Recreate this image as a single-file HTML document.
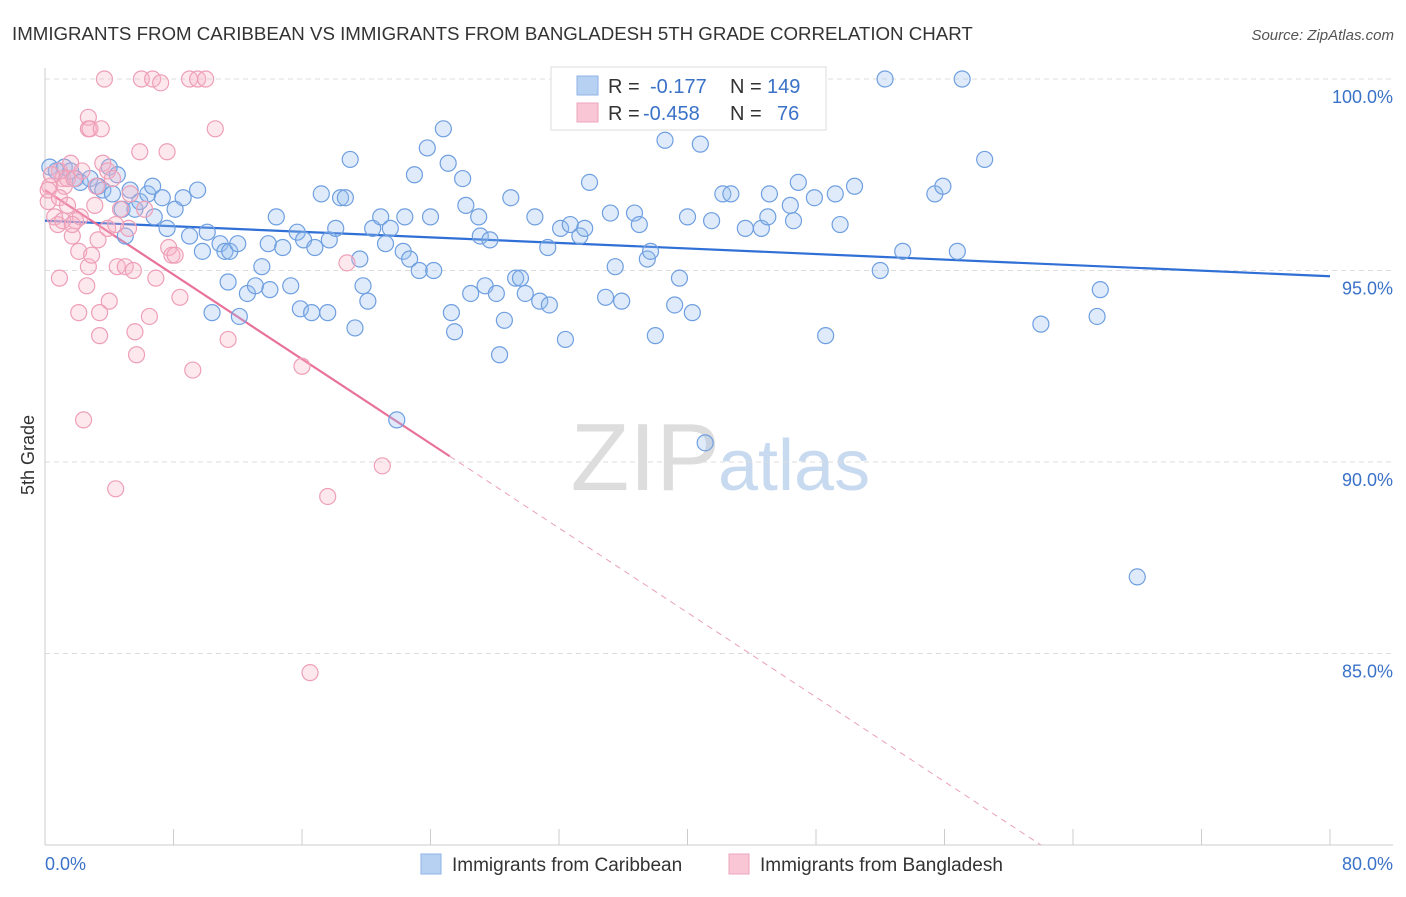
<!DOCTYPE html>
<html><head><meta charset="utf-8"><style>
body{margin:0;background:#fff;font-family:"Liberation Sans",sans-serif;}
svg text{font-family:"Liberation Sans",sans-serif;}
</style></head><body>
<svg id="chart" width="1406" height="892">
<text x="12" y="40" font-size="18.7" fill="#333">IMMIGRANTS FROM CARIBBEAN VS IMMIGRANTS FROM BANGLADESH 5TH GRADE CORRELATION CHART</text>
<text x="1394" y="40" font-size="15" fill="#555" font-style="italic" text-anchor="end">Source: ZipAtlas.com</text>
<text x="720" y="490" font-size="96" fill="#ddd" text-anchor="end" font-family="Liberation Serif">ZIP</text>
<text x="718" y="490" font-size="72" fill="#c8daf0">atlas</text>
<text x="34" y="455" font-size="18" fill="#333" transform="rotate(-90 34 455)" text-anchor="middle">5th Grade</text>
<g id="grid"></g><g id="ticks"></g><g id="trend"></g><g id="pts"></g>
<g>
<rect x="551" y="67" width="275" height="63" fill="#fff" stroke="#ddd"/>
<rect x="577" y="76" width="21" height="19" fill="#b7d1f3" stroke="#8fb3e6"/>
<rect x="577" y="103" width="21" height="19" fill="#f8c6d5" stroke="#eea6bd"/>
<text x="608" y="93" font-size="20" fill="#333">R =</text><text x="650" y="93" font-size="20" fill="#3a72c8">-0.177</text>
<text x="730" y="93" font-size="20" fill="#333">N =</text><text x="767" y="93" font-size="20" fill="#3a72c8">149</text>
<text x="608" y="120" font-size="20" fill="#333">R =</text><text x="643" y="120" font-size="20" fill="#3a72c8">-0.458</text>
<text x="730" y="120" font-size="20" fill="#333">N =</text><text x="777" y="120" font-size="20" fill="#3a72c8">76</text>
</g>
<g>
<rect x="421" y="854" width="20" height="20" fill="#b7d1f3" stroke="#8fb3e6"/>
<text x="452" y="871" font-size="19" fill="#333">Immigrants from Caribbean</text>
<rect x="729" y="854" width="20" height="20" fill="#f8c6d5" stroke="#eea6bd"/>
<text x="760" y="871" font-size="19" fill="#333">Immigrants from Bangladesh</text>
</g>
<text x="45" y="870" font-size="18" fill="#3a72c8">0.0%</text>
<text x="1393" y="870" font-size="18" fill="#3a72c8" text-anchor="end">80.0%</text>
</svg>
<script>
const yTicks=[100,95,90,85];
const yTickLabels=["100.0%","95.0%","90.0%","85.0%"];
const xTicks=[0,8,16,24,32,40,48,56,64,72,80];
const blueX=[0.3,0.7,1.2,1.6,1.9,2.2,2.8,3.3,3.6,4.0,4.5,4.2,4.8,5.0,5.3,5.6,5.9,6.4,6.7,6.8,7.3,7.6,8.1,8.6,9.0,9.5,9.8,10.1,10.4,10.9,11.2,11.5,12.0,11.4,12.1,12.6,13.1,13.5,13.9,14.0,14.4,14.8,15.3,15.7,15.9,16.1,16.6,16.8,17.2,17.6,17.7,18.1,18.4,18.7,19.0,19.3,19.6,19.8,20.1,20.4,20.9,21.2,21.5,21.9,22.3,22.4,22.7,23.0,23.3,23.8,24.0,24.2,24.8,25.1,25.3,25.5,26.0,26.2,26.5,27.0,27.1,27.4,27.7,28.1,28.3,28.6,29.0,29.3,29.6,29.9,30.5,30.8,31.3,31.4,32.1,32.4,32.7,33.3,33.6,33.9,34.9,35.2,35.5,35.9,36.7,37.0,37.5,37.7,38.0,38.6,39.2,39.5,40.0,40.3,40.8,41.1,41.5,42.2,42.7,43.6,44.6,45.0,45.1,46.4,46.6,46.9,47.9,48.6,49.2,49.5,50.4,52.0,52.3,53.4,55.4,55.9,56.8,57.1,58.5,62.0,65.5,65.7,68.0];
const blueY=[97.7,97.6,97.7,97.6,97.4,97.3,97.4,97.2,97.1,97.7,97.5,97.0,96.6,95.9,97.1,96.6,96.8,97.0,97.2,96.4,96.9,96.1,96.6,96.9,95.9,97.1,95.5,96.0,93.9,95.7,95.5,95.5,95.7,94.7,93.8,94.4,94.6,95.1,95.7,94.5,96.4,95.6,94.6,96.0,94.0,95.8,93.9,95.6,97.0,93.9,95.8,96.1,96.9,96.9,97.9,93.5,95.3,94.6,94.2,96.1,96.4,95.7,96.1,91.1,95.5,96.4,95.3,97.5,95.0,98.2,96.4,95.0,98.7,97.8,93.9,93.4,97.4,96.7,94.4,96.4,95.9,94.6,95.8,94.4,92.8,93.7,96.9,94.8,94.8,94.4,96.4,94.2,95.6,94.1,96.1,93.2,96.2,95.9,96.1,97.3,94.3,96.5,95.1,94.2,96.5,96.2,95.3,95.5,93.3,98.4,94.1,94.8,96.4,93.9,98.3,90.5,96.3,97.0,97.0,96.1,96.1,96.4,97.0,96.7,96.3,97.3,96.9,93.3,97.0,96.2,97.2,95.0,100.0,95.5,97.0,97.2,95.5,100.0,97.9,93.6,93.8,94.5,87.0];
const pinkX=[0.2,0.3,0.6,0.8,0.9,1.1,1.2,1.4,1.6,1.7,1.9,2.1,2.2,2.4,2.6,2.7,2.7,2.7,2.8,3.1,3.3,3.4,3.4,3.5,3.6,3.7,3.9,3.9,4.0,4.2,4.4,4.5,4.7,5.0,5.2,5.6,5.7,5.9,6.0,6.2,6.5,6.7,6.9,7.2,7.6,7.7,7.9,8.1,8.4,9.0,9.2,9.5,10.0,10.6,11.4,16.0,16.5,17.6,18.8,21.0,0.2,0.4,0.9,1.4,1.8,2.3,3.2,5.3,4.4,5.5,1.1,1.7,2.1,0.9,2.9];
const pinkY=[96.8,97.2,96.4,96.2,97.6,97.4,97.2,97.4,97.8,95.9,96.3,95.5,96.4,91.1,94.6,99.0,98.7,95.1,98.7,96.7,95.8,93.9,93.3,98.7,97.8,100.0,97.6,96.1,94.2,97.4,89.3,95.1,96.6,95.1,96.1,93.4,92.8,98.1,100.0,96.6,93.8,100.0,94.8,99.9,98.1,95.6,95.4,95.4,94.3,100.0,92.4,100.0,100.0,98.7,93.2,92.5,84.5,89.1,95.2,89.9,97.1,97.5,96.9,96.7,97.4,97.6,97.2,97.0,96.2,95.0,96.3,96.2,93.9,94.8,95.4];
const blueTrend=[[0,96.3],[80,94.85]];
const pinkTrendSolid=[[0,97.1],[25.2,90.15]];
const pinkTrendDash=[[25.2,90.15],[62,80]];
const X=v=>45+v*(1285/80), Y=v=>79+(100-v)*38.3;
const NS="http://www.w3.org/2000/svg";
function mk(tag,attrs,parent){const e=document.createElementNS(NS,tag);for(const k in attrs)e.setAttribute(k,attrs[k]);document.getElementById(parent).appendChild(e);return e;}
yTicks.forEach((t,i)=>{
 const l=mk('line',{x1:45,x2:1393,y1:Y(t),y2:Y(t),stroke:'#ddd','stroke-dasharray':'5,4'},'grid');
 
 
 const tx=mk('text',{x:1393,y:Y(t)+24,'font-size':18,fill:'#3a72c8','text-anchor':'end'},'grid');
 tx.textContent=yTickLabels[i];
 
 
});
const ax=mk('line',{x1:45,x2:45,y1:68,y2:845,stroke:'#ccc'},'ticks');


const bx=mk('line',{x1:45,x2:1393,y1:845,y2:845,stroke:'#ccc'},'ticks');


xTicks.forEach(t=>{
 const l=mk('line',{x1:X(t),x2:X(t),y1:829,y2:845,stroke:'#ccc'},'ticks');
 
 
});
function pts(xs,ys,fill,stroke,name){xs.forEach((x,i)=>{
 const c=mk('circle',{cx:X(x),cy:Y(ys[i]),r:8,fill:fill,stroke:stroke,'stroke-width':1.2},'pts');
 
 
});}
pts(blueX,blueY,'rgba(150,190,240,0.3)','#6f9fe0','caribbean-point');
pts(pinkX,pinkY,'rgba(248,180,200,0.3)','#ee9fb8','bangladesh-point');
function line(p,stroke,w,dash,name){
 const l=mk('line',{x1:X(p[0][0]),y1:Y(p[0][1]),x2:X(p[1][0]),y2:Y(p[1][1]),stroke:stroke,'stroke-width':w},'trend');
 if(dash)l.setAttribute('stroke-dasharray',dash);
 
 
}
line(blueTrend,'#2f6fd6',2.2,null,'caribbean-trend-line');
line(pinkTrendSolid,'#e8729a',2.2,null,'bangladesh-trend-line');
line(pinkTrendDash,'#eaa0b8',1,'6,5','bangladesh-trend-extension');
</script>
</body></html>
